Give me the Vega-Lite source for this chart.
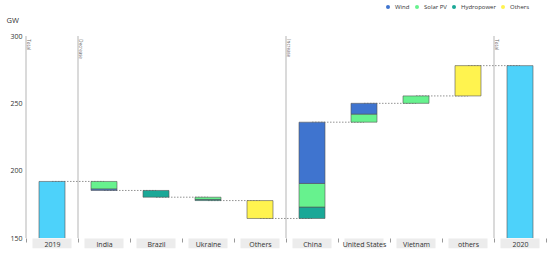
{
  "$schema": "https://vega.github.io/schema/vega-lite/v6.json",
  "autosize": {"type": "none"},
  "padding": {"left": 26, "top": 36, "right": 4, "bottom": 15},
  "width": 520,
  "height": 202,
  "background": "white",
  "config": {"view": {"stroke": null}, "font": "Open Sans"},
  "datasets": {
    "cats": [
      {"cat": "2019"}, {"cat": "India"}, {"cat": "Brazil"}, {"cat": "Ukraine"}, {"cat": "Others"},
      {"cat": "China"}, {"cat": "United States"}, {"cat": "Vietnam"}, {"cat": "others"}, {"cat": "2020"}
    ],
    "segs": [
      {"cat": "2019", "label": "Total"},
      {"cat": "India", "label": "Decrease"},
      {"cat": "China", "label": "Increase"},
      {"cat": "2020", "label": "Total"}
    ],
    "conn": [
      {"from": "2019", "to": "India", "level": 192},
      {"from": "India", "to": "Brazil", "level": 185.3},
      {"from": "Brazil", "to": "Ukraine", "level": 180.3},
      {"from": "Ukraine", "to": "Others", "level": 177.8},
      {"from": "Others", "to": "China", "level": 164.5},
      {"from": "China", "to": "United States", "level": 236},
      {"from": "United States", "to": "Vietnam", "level": 250},
      {"from": "Vietnam", "to": "others", "level": 255.5},
      {"from": "others", "to": "2020", "level": 278}
    ],
    "bars": [
      {"cat": "2019", "type": "Total", "y0": 0, "y1": 192},
      {"cat": "India", "type": "Solar PV", "y0": 186.3, "y1": 192},
      {"cat": "India", "type": "Wind", "y0": 185.3, "y1": 186.3},
      {"cat": "Brazil", "type": "Hydropower", "y0": 180.3, "y1": 185.3},
      {"cat": "Ukraine", "type": "Solar PV", "y0": 178.6, "y1": 180.3},
      {"cat": "Ukraine", "type": "Hydropower", "y0": 177.8, "y1": 178.6},
      {"cat": "Others", "type": "Others", "y0": 164.5, "y1": 177.8},
      {"cat": "China", "type": "Hydropower", "y0": 164.5, "y1": 173},
      {"cat": "China", "type": "Solar PV", "y0": 173, "y1": 190.5},
      {"cat": "China", "type": "Wind", "y0": 190.5, "y1": 236},
      {"cat": "United States", "type": "Solar PV", "y0": 236, "y1": 242},
      {"cat": "United States", "type": "Wind", "y0": 242, "y1": 250},
      {"cat": "Vietnam", "type": "Solar PV", "y0": 250, "y1": 255.5},
      {"cat": "others", "type": "Others", "y0": 255.5, "y1": 278},
      {"cat": "2020", "type": "Total", "y0": 0, "y1": 278}
    ]
  },
  "layer": [
    {
      "data": {"name": "cats"},
      "mark": {"type": "bar", "color": "#ececec", "width": {"band": 0.75}},
      "encoding": {
        "x": {
          "field": "cat", "type": "nominal",
          "scale": {
            "domain": ["2019", "India", "Brazil", "Ukraine", "Others", "China", "United States", "Vietnam", "others", "2020"],
            "paddingInner": 0, "paddingOuter": 0
          },
          "sort": null,
          "axis": {
            "title": null, "labelAngle": 0, "labelFontSize": 7, "labelColor": "#333",
            "tickBand": "extent", "tickSize": 4, "tickColor": "#999", "domain": false,
            "labelPadding": -2, "zindex": 1
          }
        },
        "y": {"datum": 149.6},
        "y2": {"datum": 142.3}
      }
    },
    {
      "data": {"name": "segs"},
      "mark": {"type": "rule", "color": "#b5b5b5", "strokeWidth": 1},
      "encoding": {
        "x": {"field": "cat", "type": "nominal", "bandPosition": 0},
        "y": {"datum": 300},
        "y2": {"datum": 150}
      }
    },
    {
      "data": {"name": "segs"},
      "mark": {"type": "text", "angle": 90, "align": "left", "baseline": "bottom", "fontSize": 4.5, "color": "#666"},
      "encoding": {
        "x": {"field": "cat", "type": "nominal", "bandPosition": 0},
        "y": {"datum": 297.5},
        "text": {"field": "label"}
      }
    },
    {
      "data": {"name": "conn"},
      "mark": {"type": "rule", "color": "#777", "strokeWidth": 0.8, "strokeDash": [1.5, 1.5]},
      "encoding": {
        "x": {"field": "from", "type": "nominal"},
        "x2": {"field": "to"},
        "y": {"field": "level", "type": "quantitative"}
      }
    },
    {
      "data": {"name": "bars"},
      "mark": {"type": "bar", "width": {"band": 0.5}, "clip": true, "stroke": "#555", "strokeWidth": 0.6},
      "encoding": {
        "x": {"field": "cat", "type": "nominal"},
        "y": {
          "field": "y1", "type": "quantitative",
          "scale": {"domain": [150, 300], "nice": false, "zero": false},
          "axis": {
            "values": [150, 175, 200, 225, 250, 275, 300],
            "title": "GW", "titleAngle": 0, "titleX": -20, "titleY": -16,
            "titleAlign": "left", "titleBaseline": "middle", "titleFontSize": 7.5,
            "titleFontWeight": "normal", "titleColor": "#333",
            "labelFontSize": 7, "labelColor": "#333", "labelPadding": 4,
            "domain": false, "ticks": false,
            "gridColor": "#e6e6e6",
            "gridOpacity": {"condition": {"test": "datum.value == 150", "value": 0}, "value": 1}
          }
        },
        "y2": {"field": "y0"},
        "color": {
          "field": "type", "type": "nominal",
          "scale": {
            "domain": ["Wind", "Solar PV", "Hydropower", "Others", "Total"],
            "range": ["#3f74cf", "#67f28e", "#1aa897", "#fff34f", "#4dd2fa"]
          },
          "legend": {
            "values": ["Wind", "Solar PV", "Hydropower", "Others"],
            "title": null, "orient": "none", "direction": "horizontal",
            "legendX": 359, "legendY": -32, "padding": 0,
            "symbolType": "circle", "symbolSize": 16, "symbolStrokeWidth": 0,
            "labelFontSize": 6, "labelColor": "#333", "labelOffset": 4, "columnPadding": 4
          }
        }
      }
    }
  ]
}
